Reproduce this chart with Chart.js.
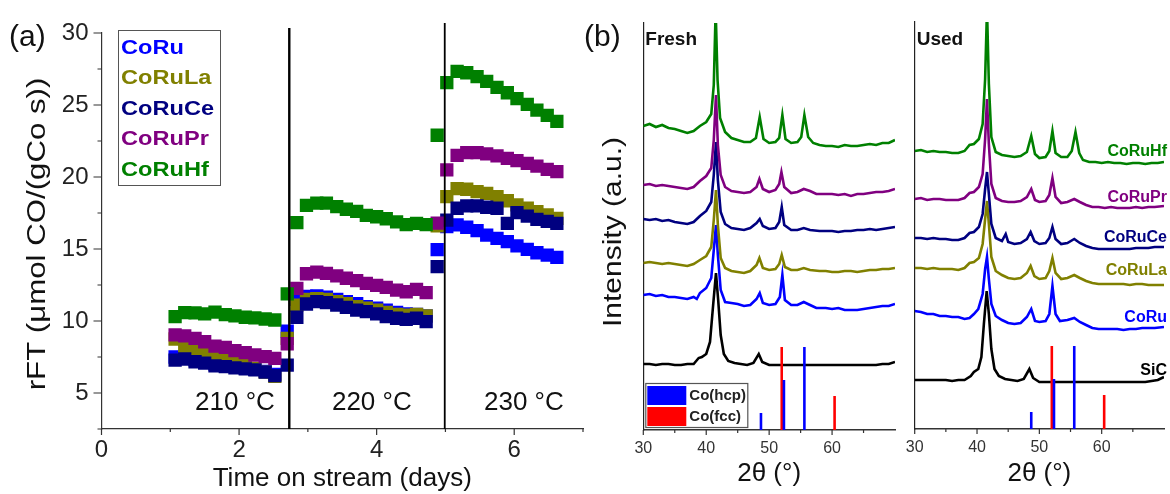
<!DOCTYPE html>
<html>
<head>
<meta charset="utf-8">
<script src="https://cdn.jsdelivr.net/npm/chart.js@4.4.1/dist/chart.umd.min.js"></script>
<style>
  html, body { margin: 0; padding: 0; background: #ffffff; }
  #wrap { position: relative; width: 1170px; height: 494px; overflow: hidden; }
  #wrap canvas { position: absolute; left: 0; top: 0; }
</style>
</head>
<body>
<div id="wrap">
  <canvas id="rate" width="1170" height="494"></canvas>
  <canvas id="fresh" width="1170" height="494"></canvas>
  <canvas id="used" width="1170" height="494"></canvas>
</div>
<script>
const FONT = '"Liberation Sans", Arial, Helvetica, sans-serif';

// ---------- (a) FT rate vs. time on stream ----------
const days = [1.07, 1.21, 1.36, 1.50, 1.65, 1.80, 1.94, 2.09, 2.23, 2.38, 2.52,
              2.70, 2.84,
              2.98, 3.13, 3.27, 3.42, 3.56, 3.71, 3.85, 4.00, 4.14, 4.29, 4.43, 4.58, 4.72,
              4.88, 5.02,
              5.17, 5.31, 5.46, 5.60, 5.75, 5.90, 6.04, 6.19, 6.33, 6.48, 6.62];

const rateCoRu   = [7.50, 7.45, 7.30, 7.15, 7.00, 6.95, 6.85, 6.75, 6.65, 6.50, 6.30,
                    9.30, 11.50,
                    11.70, 11.75, 11.65, 11.50, 11.35, 11.20, 11.00, 10.90, 10.75, 10.60, 10.50, 10.45, 10.35,
                    14.95, 16.55,
                    16.67, 16.51, 16.28, 15.97, 15.74, 15.51, 15.21, 14.98, 14.74, 14.58, 14.42];
const rateCoRuLa = [8.75, 8.20, 8.00, 7.80, 7.55, 7.35, 7.10, 6.90, 6.70, 6.45, 6.15,
                    8.80, 11.10,
                    11.50, 11.55, 11.50, 11.35, 11.20, 11.00, 10.90, 10.75, 10.60, 10.45, 10.40, 10.45, 10.35,
                    16.60, 18.63,
                    19.19, 19.15, 18.98, 18.87, 18.63, 18.35, 18.06, 17.83, 17.59, 17.36, 17.13];
const rateCoRuCe = [7.29, 7.36, 7.17, 7.08, 6.88, 6.83, 6.74, 6.67, 6.60, 6.45, 6.20,
                    6.94, 10.26,
                    11.18, 11.34, 11.27, 11.11, 10.95, 10.76, 10.65, 10.49, 10.30, 10.19, 10.12, 10.19, 9.95,
                    13.77, 17.00,
                    17.83, 17.99, 17.99, 17.90, 17.83, 16.78, 17.52, 17.29, 17.06, 16.92, 16.78];
const rateCoRuPr = [9.03, 8.96, 8.80, 8.56, 8.26, 8.17, 7.94, 7.80, 7.64, 7.52, 7.40,
                    8.42, 12.27,
                    13.28, 13.40, 13.31, 13.13, 12.97, 12.80, 12.62, 12.48, 12.34, 12.15, 12.03, 12.20, 11.97,
                    16.80, 20.49,
                    21.50, 21.69, 21.69, 21.60, 21.46, 21.30, 21.13, 20.95, 20.76, 20.53, 20.37];
const rateCoRuHf = [10.30, 10.58, 10.56, 10.50, 10.62, 10.44, 10.35, 10.26, 10.21, 10.14, 10.07,
                    11.88, 16.83,
                    18.03, 18.19, 18.19, 17.94, 17.76, 17.62, 17.34, 17.24, 17.10, 16.88, 16.69, 16.78, 16.69,
                    22.90, 26.55,
                    27.34, 27.24, 26.97, 26.64, 26.23, 25.85, 25.44, 25.05, 24.65, 24.28, 23.87];

const rateTicks = [5, 10, 15, 20, 25, 30];
const rateMinorTicks = [2.5, 7.5, 12.5, 17.5, 22.5, 27.5];
const dayTicks = [0, 2, 4, 6];
const dayMinorTicks = [1, 3, 5, 7];
const tempSwitchDays = [2.73, 4.99];
const tempLabels = ['210 °C', '220 °C', '230 °C'];

const sampleNames  = ['CoRu', 'CoRuLa', 'CoRuCe', 'CoRuPr', 'CoRuHf'];
const sampleColors = ['#0000ff', '#808000', '#000080', '#800080', '#008000'];
const rateValues   = [rateCoRu, rateCoRuLa, rateCoRuCe, rateCoRuPr, rateCoRuHf];

// ---------- (b) XRD patterns, 2θ (°) vs. intensity (a.u., stacked) ----------
const thetaTicks = [30, 40, 50, 60];
const thetaMinorTicks = [35, 45, 55, 65];

const freshCoRuHf = [[30,304],[31,306],[32,303],[33,305],[34,302],[35,301],[36,299],[37,297],[38,299],[39,304],[40,308],[40.8,316],[41.2,345],[41.5,420],[41.8,350],[42.2,312],[43,298],[44,292],[45,290],[46,288],[47,288],[47.9,292],[48.5,313],[49.1,291],[50,287],[51,288],[51.6,292],[52.1,315],[52.6,291],[53.5,287],[54.5,288],[55.1,293],[55.6,315],[56.2,293],[57,287],[58,285],[59,284],[60,284],[61,283],[62,285],[63,284],[64,284],[65,285],[66,286],[67,285],[68,287],[69,287],[70,290]];
const freshCoRuPr = [[30,245],[31,246],[32,244],[33,245],[34,244],[35,243],[36,242],[37,241],[38,243],[39,249],[40,254],[40.8,262],[41.2,290],[41.55,335],[41.85,285],[42.3,255],[43,243],[44,239],[45,238],[46,237],[47,238],[48,243],[48.45,251],[49,241],[50,238],[51,240],[51.6,246],[51.95,258],[52.4,243],[53.5,237],[54.5,238],[55.5,241],[56.5,239],[57.5,236],[59,236],[60,236],[61,235],[62,236],[63,234],[64,236],[65,236],[66,237],[67,238],[68,238],[69,239],[70,241]];
const freshCoRuCe = [[30,211],[31,210],[32,211],[33,209],[34,210],[35,208],[36,207],[37,206],[38,208],[39,214],[40,219],[40.8,228],[41.2,255],[41.55,288],[41.85,250],[42.3,218],[43,206],[44,202],[45,201],[46,200],[47,202],[48,207],[48.5,211],[49,204],[50,201],[51,202],[51.6,208],[52,223],[52.4,205],[53.5,200],[54.5,200],[55.5,202],[56.5,200],[58,199],[59,199],[60,199],[61,198],[62,199],[63,199],[64,200],[65,200],[66,201],[67,200],[68,201],[69,202],[70,203]];
const freshCoRuLa = [[30,167],[31,168],[32,167],[33,166],[34,167],[35,166],[36,165],[37,164],[38,166],[39,170],[40,174],[40.8,183],[41.2,210],[41.55,240],[41.85,205],[42.3,172],[43,162],[44,159],[45,158],[46,157],[47,159],[48,165],[48.45,172],[49,162],[50,160],[51,161],[51.6,166],[52,175],[52.5,163],[53.5,160],[54.5,160],[55.5,162],[56.5,160],[58,159],[59,159],[60,158],[61,158],[62,159],[63,159],[64,158],[65,159],[66,160],[67,160],[68,161],[69,161],[70,162]];
const freshCoRu   = [[30,135],[31,136],[32,134],[33,135],[34,133],[35,133],[36,132],[37,131],[38,133],[38.5,131],[39,137],[40,142],[40.8,152],[41.2,180],[41.55,205],[41.85,175],[42.3,140],[43,128],[44,127],[45,126],[46,124],[47,125],[48,131],[48.5,137],[49,127],[50,125],[51,126],[51.7,133],[52.1,155],[52.5,130],[53.5,125],[54.5,125],[55.5,128],[56.5,125],[57.5,122],[59,122],[60,121],[61,122],[62,120],[63,120],[64,120],[65,121],[66,122],[67,123],[68,124],[69,124],[70,126]];
const freshSiC    = [[30,66],[31,66],[32,65],[33,66],[34,66],[35,65],[36,65],[37,66],[38,66],[38.8,72],[39.3,73],[40,76],[40.6,88],[41.1,125],[41.55,157],[41.9,130],[42.3,95],[42.8,76],[43.5,69],[44.5,67],[45.5,66],[46.5,65],[47.5,67],[48.35,76],[48.9,68],[50,65],[51,65],[52,65],[53,65],[54,65],[55,65],[56,65],[57,65],[58,65],[59,65],[60,65],[61,65],[62,65],[63,65],[64,65],[65,65],[66,65],[67,65],[68,66],[69,66],[70,68]];

const usedCoRuHf = [[30,278],[31,279],[32,277],[33,278],[34,277],[35,277],[36,276],[37,276],[38,278],[38.8,284],[39.5,285],[40.3,290],[40.9,305],[41.3,350],[41.6,420],[41.9,345],[42.3,292],[43,277],[44,274],[45,273],[46,272],[47,273],[48,277],[48.7,293],[49.3,275],[50,271],[51,272],[51.6,278],[52.1,298],[52.6,276],[53.5,272],[54.5,272],[55.2,278],[55.8,297],[56.4,276],[57,269],[58,267],[59,267],[60,266],[61,267],[62,266],[63,266],[64,265],[65,266],[66,266],[67,265],[68,266],[69,266],[70,267]];
const usedCoRuPr = [[30,230],[31,231],[32,229],[33,230],[34,230],[35,229],[36,229],[37,229],[38,231],[38.8,236],[39.5,237],[40.3,242],[40.9,255],[41.3,290],[41.6,330],[41.9,285],[42.3,245],[43,231],[44,228],[45,227],[46,227],[47,228],[48,232],[48.7,240],[49.3,229],[50,227],[51,228],[51.6,234],[52.1,251],[52.6,232],[53.5,226],[54.5,227],[55.6,230],[56.5,227],[57.5,224],[58.5,222],[59.5,222],[60.5,221],[61.5,222],[62.5,221],[63.5,221],[64.5,221],[65.5,222],[66.5,221],[67.5,222],[68.5,222],[70,223]];
const usedCoRuCe = [[30,191],[31,191],[32,190],[33,191],[34,190],[35,190],[36,189],[37,189],[38,191],[38.8,196],[39.5,197],[40.3,202],[40.9,215],[41.3,240],[41.6,257],[41.9,235],[42.3,205],[43,191],[44,188],[44.6,195],[45,187],[46,185],[47,186],[48,190],[48.6,197],[49.2,188],[50,185],[51,186],[51.6,191],[52.1,202],[52.6,190],[53.5,185],[54.5,186],[55.6,190],[56.5,186],[57.5,183],[58.5,181],[59.5,180],[60.5,180],[61.5,180],[62.5,180],[63.5,180],[64.5,180],[65.5,181],[66.5,181],[67.5,181],[68.5,182],[70,182]];
const usedCoRuLa = [[30,161],[31,161],[32,160],[33,161],[34,160],[35,160],[36,160],[37,159],[38,161],[38.8,166],[39.5,167],[40.3,171],[40.9,185],[41.3,210],[41.6,228],[41.9,205],[42.3,172],[43,158],[44,154],[45,151],[46,150],[47,151],[48,156],[48.6,163],[49.2,153],[50,150],[51,151],[51.6,158],[52.1,171],[52.6,156],[53.5,150],[54.5,151],[55.6,154],[56.5,151],[57.5,148],[58.5,146],[59.5,145],[60.5,145],[61.5,145],[62.5,145],[63.5,145],[64.5,144],[65.5,145],[66.5,145],[67.5,144],[68.5,144],[70,144]];
const usedCoRu   = [[30,118],[31,117],[32,115],[33,115],[34,113],[35,113],[36,112],[37,112],[38,110],[38.8,111],[39.5,115],[40.2,120],[40.9,135],[41.3,160],[41.6,172],[41.9,150],[42.3,125],[43,113],[44,109],[45,106],[46,105],[47,106],[48,112],[48.7,120],[49.3,108],[50,107],[51,108],[51.6,115],[52.1,143],[52.6,115],[53.3,108],[54.5,109],[55.6,111],[56.5,107],[57.5,104],[58.5,101],[59.5,100],[60.5,100],[61.5,100],[62.5,100],[63.5,99],[64.5,100],[65.5,100],[66.5,101],[67.5,101],[68.5,101],[70,102]];
const usedSiC    = [[30,49],[31,49],[32,49],[33,49],[34,49],[35,49],[36,48],[37,49],[38,49],[39,53],[39.5,57],[40.2,60],[40.7,72],[41.1,105],[41.55,138],[41.9,115],[42.3,80],[42.8,60],[43.5,53],[44.5,50],[45.5,49],[46.5,48],[47.5,50],[48.4,60],[49,51],[50,47],[51,47],[52,47],[53,47],[54,47],[55,47],[56,47],[57,47],[58,47],[59,47],[60,47],[61,47],[62,47],[63,47],[64,47],[65,47],[66,47],[67,47],[68,48],[69,49],[70,52]];

// reference reflections of metallic Co
const hcpAngles = [48.7, 52.35, 55.6];
const hcpHeights = [17, 50, 83];
const fccAngles = [52.0, 60.4];
const fccHeights = [83, 34];

const xrdNames  = ['CoRuHf', 'CoRuPr', 'CoRuCe', 'CoRuLa', 'CoRu', 'SiC'];
const xrdColors = ['#008000', '#800080', '#000080', '#808000', '#0000ff', '#000000'];
const freshPatterns = [freshCoRuHf, freshCoRuPr, freshCoRuCe, freshCoRuLa, freshCoRu, freshSiC];
const usedPatterns  = [usedCoRuHf, usedCoRuPr, usedCoRuCe, usedCoRuLa, usedCoRu, usedSiC];
// label heights (intensity units) for the sample names on the used panel
const usedLabelLevels = [277, 231, 191, 158, 111, 58];

// ---------- helpers ----------
function tickMarks(ctx, scale, values, len, horizontal) {
  ctx.beginPath();
  values.forEach(v => {
    const p = scale.getPixelForValue(v);
    if (horizontal) { ctx.moveTo(p, scale.top); ctx.lineTo(p, scale.top + len); }
    else { ctx.moveTo(scale.right, p); ctx.lineTo(scale.right - len, p); }
  });
  ctx.stroke();
}
function fixedTicks(values) {
  return scale => { scale.ticks = values.map(v => ({ value: v })); };
}
// vertical axis title, optionally stretched along its reading direction
function rotatedText(ctx, text, x, y, font, color, stretch) {
  ctx.save();
  ctx.translate(x, y);
  ctx.rotate(-Math.PI / 2);
  ctx.scale(stretch || 1, 1);
  ctx.font = font;
  ctx.fillStyle = color;
  ctx.textAlign = 'center';
  ctx.textBaseline = 'middle';
  ctx.fillText(text, 0, 0);
  ctx.restore();
}

// ---------- (a) decorations ----------
const rateDecor = {
  id: 'rateDecor',
  afterDatasetsDraw(chart) {
    const { ctx, chartArea: a, scales: { x } } = chart;
    ctx.save();
    // temperature step markers
    ctx.strokeStyle = '#000';
    tempSwitchDays.forEach((d, i) => {
      const px = x.getPixelForValue(d);
      ctx.lineWidth = i === 0 ? 2.4 : 1.8;
      ctx.beginPath();
      ctx.moveTo(px, a.top - (i === 0 ? 5 : 10));
      ctx.lineTo(px, a.bottom);
      ctx.stroke();
    });
    ctx.restore();
  },
  afterDraw(chart) {
    const { ctx, chartArea: a, scales: { x, y } } = chart;
    ctx.save();
    ctx.strokeStyle = '#333';
    ctx.lineWidth = 1.2;
    tickMarks(ctx, x, dayTicks, 6, true);
    tickMarks(ctx, x, dayMinorTicks, 3, true);
    tickMarks(ctx, y, rateTicks, 8, false);
    tickMarks(ctx, y, rateMinorTicks, 4, false);

    // temperature labels inside each period
    ctx.font = '26px ' + FONT;
    ctx.fillStyle = '#111';
    ctx.textAlign = 'center';
    ctx.textBaseline = 'middle';
    const labelDays = [1.94, 3.93, 6.14];
    tempLabels.forEach((t, i) => ctx.fillText(t, x.getPixelForValue(labelDays[i]), y.getPixelForValue(4.35)));

    // legend
    ctx.strokeStyle = '#555';
    ctx.lineWidth = 1;
    ctx.strokeRect(118.5, 30.5, 102, 155);
    ctx.font = 'bold 20px ' + FONT;
    ctx.textAlign = 'left';
    ctx.textBaseline = 'alphabetic';
    sampleNames.forEach((n, i) => {
      ctx.save();
      ctx.translate(121, 53.5 + i * 30.5);
      ctx.scale(1.18, 1);
      ctx.fillStyle = sampleColors[i];
      ctx.fillText(n, 0, 0);
      ctx.restore();
    });

    // titles
    ctx.fillStyle = '#111';
    ctx.font = '30px ' + FONT;
    ctx.textAlign = 'left';
    ctx.textBaseline = 'alphabetic';
    ctx.fillText('(a)', 9, 46);
    ctx.font = '26px ' + FONT;
    ctx.textAlign = 'center';
    ctx.textBaseline = 'middle';
    ctx.fillText('Time on stream (days)', (a.left + a.right) / 2, 479);
    rotatedText(ctx, 'rFT (μmol CO/(gCo s))', 38, 234, '26px ' + FONT, '#111', 1.2);
    ctx.restore();
  }
};

new Chart(document.getElementById('rate'), {
  type: 'scatter',
  data: {
    datasets: sampleNames.map((n, i) => ({
      label: n,
      data: days.map((d, k) => ({ x: d, y: rateValues[i][k] })),
      showLine: false,
      pointStyle: 'rect',
      pointRadius: 9.4,
      pointHoverRadius: 9.4,
      pointBackgroundColor: sampleColors[i],
      pointBorderColor: sampleColors[i],
      pointBorderWidth: 0,
      order: sampleNames.length - i
    }))
  },
  options: {
    responsive: false,
    animation: false,
    events: [],
    layout: { padding: { left: 0, top: 33, right: 1170 - 583, bottom: 0 } },
    scales: {
      x: {
        type: 'linear', min: 0, max: 7,
        afterBuildTicks: fixedTicks(dayTicks),
        afterFit: s => { s.height = 494 - 429; },
        grid: { display: false, drawTicks: false },
        border: { display: true, color: '#333', width: 1.2 },
        ticks: { font: { family: FONT, size: 24 }, color: '#222', padding: 7, maxRotation: 0, autoSkip: false }
      },
      y: {
        type: 'linear', min: 2.5, max: 30,
        afterBuildTicks: fixedTicks(rateTicks),
        afterFit: s => { s.width = 101.5; },
        grid: { display: false, drawTicks: false },
        border: { display: true, color: '#333', width: 1.2 },
        ticks: { font: { family: FONT, size: 24 }, color: '#222', padding: 13, autoSkip: false }
      }
    },
    plugins: { legend: { display: false }, tooltip: { enabled: false } }
  },
  plugins: [rateDecor]
});

// ---------- (b) XRD panels ----------
function stickData(angles, heights) {
  const out = [];
  angles.forEach((a, i) => {
    out.push({ x: a, y: 0 }, { x: a, y: heights[i] }, { x: a, y: null });
  });
  return out;
}

function xrdDecor(kind) {
  return {
    id: 'xrdDecor' + kind,
    afterDraw(chart) {
      const { ctx, chartArea: a, scales: { x, y } } = chart;
      ctx.save();
      ctx.strokeStyle = '#333';
      ctx.lineWidth = 1.2;
      tickMarks(ctx, x, thetaTicks, 5, true);
      tickMarks(ctx, x, thetaMinorTicks, 3, true);

      ctx.fillStyle = '#111';
      ctx.font = 'bold 19px ' + FONT;
      ctx.textAlign = 'left';
      ctx.textBaseline = 'alphabetic';
      ctx.fillText(kind === 'fresh' ? 'Fresh' : 'Used', a.left + 2, 45);

      ctx.font = '26px ' + FONT;
      ctx.textAlign = 'center';
      ctx.textBaseline = 'middle';
      ctx.fillText('2θ (°)', (a.left + a.right) / 2, 474);

      if (kind === 'fresh') {
        ctx.font = '30px ' + FONT;
        ctx.textAlign = 'left';
        ctx.textBaseline = 'alphabetic';
        ctx.fillText('(b)', 584, 46);
        rotatedText(ctx, 'Intensity (a.u.)', 614, 232, '25px ' + FONT, '#111', 1.2);

        // reference legend
        const bx = a.left + 2, by = a.bottom - 47;
        ctx.fillStyle = '#fff';
        ctx.fillRect(bx, by, 102, 44);
        ctx.strokeStyle = '#555';
        ctx.lineWidth = 1.2;
        ctx.strokeRect(bx + 0.5, by + 0.5, 102, 44);
        ctx.fillStyle = '#0000ff';
        ctx.fillRect(bx + 2, by + 3, 39, 19);
        ctx.fillStyle = '#ff0000';
        ctx.fillRect(bx + 2, by + 24, 39, 19);
        ctx.fillStyle = '#222';
        ctx.font = 'bold 15px ' + FONT;
        ctx.textAlign = 'left';
        ctx.textBaseline = 'middle';
        ctx.fillText('Co(hcp)', bx + 44, by + 13);
        ctx.fillText('Co(fcc)', bx + 44, by + 34);
      } else {
        ctx.font = 'bold 16px ' + FONT;
        ctx.textAlign = 'right';
        ctx.textBaseline = 'middle';
        xrdNames.forEach((n, i) => {
          ctx.fillStyle = xrdColors[i];
          ctx.fillText(n, a.right + 3, y.getPixelForValue(usedLabelLevels[i]));
        });
      }
      ctx.restore();
    }
  };
}

function xrdChart(canvasId, patterns, kind, area) {
  const datasets = patterns.map((p, i) => ({
    label: xrdNames[i],
    data: p.map(([t, v]) => ({ x: t, y: v })),
    showLine: true,
    borderColor: xrdColors[i],
    borderWidth: 2.6,
    pointRadius: 0,
    tension: 0,
    order: i + 1
  }));
  datasets.push({
    label: 'Co(hcp)', data: stickData(hcpAngles, hcpHeights), showLine: true,
    borderColor: '#0000ff', borderWidth: 2.6, pointRadius: 0, spanGaps: false, order: 0
  });
  datasets.push({
    label: 'Co(fcc)', data: stickData(fccAngles, fccHeights), showLine: true,
    borderColor: '#ff0000', borderWidth: 2.6, pointRadius: 0, spanGaps: false, order: 0
  });
  return new Chart(document.getElementById(canvasId), {
    type: 'scatter',
    data: { datasets },
    options: {
      responsive: false,
      animation: false,
      events: [],
      layout: { padding: { left: area.left - 3, top: area.top, right: 1170 - area.right, bottom: 0 } },
      scales: {
        x: {
          type: 'linear', min: 30, max: 70,
          afterBuildTicks: fixedTicks(thetaTicks),
          afterFit: s => { s.height = 494 - area.bottom; },
          grid: { display: false, drawTicks: false },
          border: { display: true, color: '#333', width: 1.4 },
          ticks: { font: { family: FONT, size: 16 }, color: '#333', padding: 9, maxRotation: 0, autoSkip: false }
        },
        y: {
          type: 'linear', min: 0, max: 407,
          afterFit: s => { s.width = 3; },
          grid: { display: false, drawTicks: false },
          border: { display: true, color: '#222', width: 1.2 },
          ticks: { display: false }
        }
      },
      plugins: { legend: { display: false }, tooltip: { enabled: false } }
    },
    plugins: [xrdDecor(kind)]
  });
}

xrdChart('fresh', freshPatterns, 'fresh', { left: 643.3, right: 895, top: 23, bottom: 430 });
xrdChart('used', usedPatterns, 'used', { left: 914.7, right: 1164, top: 22, bottom: 429 });
</script>
</body>
</html>
